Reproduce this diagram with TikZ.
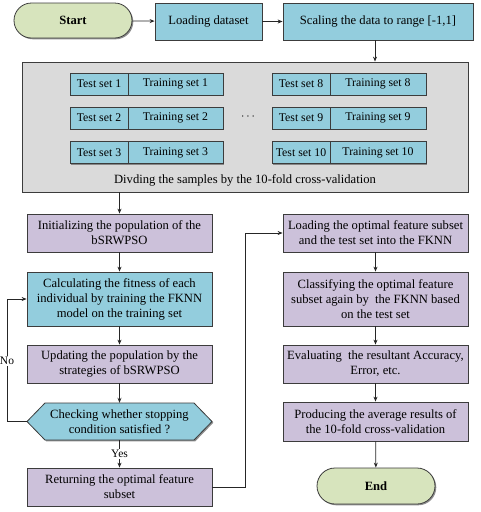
\documentclass[tikz,border=0pt]{standalone}
\usepackage{fontspec}
\setmainfont{Liberation Serif}
\usetikzlibrary{arrows.meta,shadows,positioning,calc,shapes.misc}
\definecolor{bluef}{RGB}{147,205,221}
\definecolor{greenf}{RGB}{215,228,189}
\definecolor{purplef}{RGB}{204,193,218}
\definecolor{grayf}{RGB}{218,218,218}
\definecolor{edgec}{RGB}{60,60,60}
\begin{document}
\begin{tikzpicture}[x=1pt,y=-1pt,
  base/.style={draw=edgec,line width=0.8pt,align=center,inner sep=2pt,
    font=\fontsize{12.6}{15}\selectfont,
    drop shadow={shadow xshift=1.3pt,shadow yshift=-1.3pt,fill=black!55,opacity=0.8}},
  bluebox/.style={base,rectangle,fill=bluef},
  purplebox/.style={base,rectangle,fill=purplef},
  term/.style={base,rounded rectangle,fill=greenf,font=\fontsize{12.6}{15}\selectfont\bfseries},
  setbox/.style={draw=edgec,line width=0.7pt,fill=bluef,rectangle,inner sep=0pt,
    minimum height=22pt,font=\fontsize{11.8}{13}\selectfont,
    drop shadow={shadow xshift=1pt,shadow yshift=-1pt,fill=black!55,opacity=0.8}},
  arr/.style={draw=black!85,line width=0.8pt,-{Stealth[length=5pt,width=4pt]}},
  lbl/.style={fill=white,inner sep=1pt,font=\fontsize{11.5}{13}\selectfont}
]
\useasboundingbox (0,0) rectangle (480,512);

% top row
\node[term,minimum width=122pt,minimum height=35pt] (start) at (73,20.5) {Start};
\node[bluebox,minimum width=107pt,minimum height=37pt] (load) at (208.5,21.5) {Loading dataset};
\node[bluebox,minimum width=190pt,minimum height=37pt] (scale) at (378,21.5) {Scaling the data to range [-1,1]};

% gray box
\node[base,fill=grayf,minimum width=446pt,minimum height=130pt,inner sep=0pt] (gray) at (245,127) {};
\node[font=\fontsize{12.6}{15}\selectfont] (cap) at (245,180) {Divding the samples by the 10-fold cross-validation};

% test/training sets
\foreach \i/\y in {1/84,2/118,3/152.5}{
  \node[setbox,minimum width=58pt] (tl\i) at (99,\y) {Test set \i};
  \node[setbox,minimum width=95pt] (rl\i) at (175.5,\y) {Training set \i};
}
\foreach \i/\j/\y in {8/1/84,9/2/118,10/3/152.5}{
  \node[setbox,minimum width=58pt] (tr\j) at (301,\y) {Test set \i};
  \node[setbox,minimum width=96pt] (rr\j) at (378,\y) {Training set \i};
}
\node[font=\fontsize{12}{14}\selectfont] (dots) at (248,117) {$\cdots$};

% left column
\node[purplebox,minimum width=185pt,minimum height=38pt] (init) at (119.5,233) {Initializing the population of the\\bSRWPSO};
\node[bluebox,minimum width=185pt,minimum height=54pt] (calc) at (119.5,299) {Calculating the fitness of each\\individual by training the FKNN\\model on the training set};
\node[purplebox,minimum width=185pt,minimum height=38pt] (upd) at (119.5,364) {Updating the population by the\\strategies of bSRWPSO};
\draw[base,fill=bluef] (27,421.5) -- (45,403) -- (194,403) -- (212,421.5) -- (194,440) -- (45,440) -- cycle;
\node[minimum width=185pt,minimum height=37pt,inner sep=0pt,align=center,font=\fontsize{12.6}{15}\selectfont] (hex) at (119.5,421.5) {Checking whether stopping\\condition satisfied ?};
\node[purplebox,minimum width=185pt,minimum height=38pt] (ret) at (119.5,487) {Returning the optimal feature\\subset};

% right column
\node[purplebox,minimum width=185pt,minimum height=38pt] (lopt) at (375.5,233) {Loading the optimal feature subset\\and the test set into the FKNN};
\node[purplebox,minimum width=185pt,minimum height=54pt] (cls) at (375.5,299) {Classifying the optimal feature\\subset again by\ \ the FKNN based\\on the test set};
\node[purplebox,minimum width=185pt,minimum height=38pt] (eval) at (375.5,364) {Evaluating\ \ the resultant Accuracy,\\Error, etc.};
\node[purplebox,minimum width=185pt,minimum height=39pt] (prod) at (375.5,421.5) {Producing the average results of\\the 10-fold cross-validation};
\node[term,minimum width=122pt,minimum height=36pt] (end) at (376,486) {End};

% connectors
\draw[arr] (start) -- (load);
\draw[arr] (load) -- (scale);
\draw[arr] (scale.south -| 375,0) -- (gray.north -| 375,0);
\draw[arr] (gray.south -| init.north) -- (init.north);
\draw[arr] (init) -- (calc);
\draw[arr] (calc) -- (upd);
\draw[arr] (upd) -- (hex);
\draw[arr] (hex.west) -- (7,421.5) |- (calc.west);
\node[lbl] (no) at (7,361) {No};
\draw[arr] (hex.south) -- (ret.north);
\node[lbl] (yes) at (119.5,454) {Yes};
\draw[arr] (ret.east) -- (245,487) |- (lopt.west);
\draw[arr] (lopt) -- (cls);
\draw[arr] (cls) -- (eval);
\draw[arr] (eval) -- (prod);
\draw[arr] (prod) -- (end);
\end{tikzpicture}
\end{document}
